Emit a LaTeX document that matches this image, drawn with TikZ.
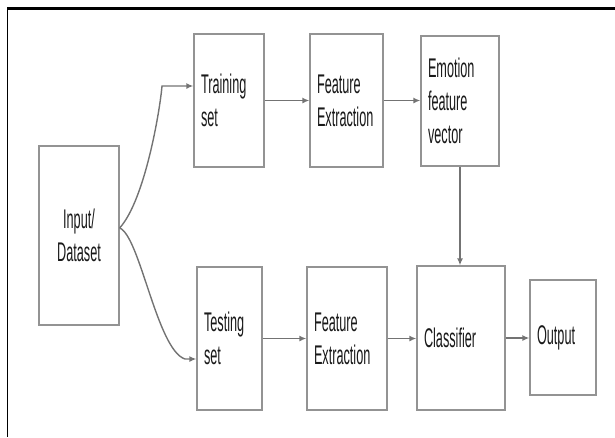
\documentclass[tikz,border=0pt]{standalone}
\usepackage{fontspec}
\setmainfont{Liberation Sans}[FakeStretch=0.47]
\usetikzlibrary{arrows.meta}
\colorlet{boxgray}{gray!85}
\colorlet{flowgray}{black!55}
\colorlet{ink}{black!90}
\tikzset{
  blk/.style = {
    rectangle, draw=boxgray, line width=1.3pt,
    align=left, inner xsep=7pt, inner ysep=0pt,
    text=ink, font=\fontsize{27}{33}\selectfont
  },
  flow/.style = {draw=flowgray, line width=1.4pt, -{Latex[length=7pt,width=6pt]}}
}

\begin{document}
\begin{tikzpicture}[x=1pt,y=-1pt]
  \useasboundingbox (0,0) rectangle (615,437);
  % frame
  \draw[line width=3pt] (7,8.7) -- (615,8.7);
  \draw[line width=1.4pt] (7.3,7.2) -- (7.3,437);
  % input
  \node[blk, align=center, minimum width=80pt, minimum height=179pt] (inp) at (79,235.5) {Input/\\Dataset};
  % training branch
  \node[blk, text width=56pt, minimum height=133pt] (train) at (229,100.5) {Training\\set};
  \node[blk, text width=59pt, minimum height=133pt] (featA) at (346.5,100.5) {Feature\\Extraction};
  \node[blk, text width=64pt, minimum height=130pt] (emo) at (460,101) {Emotion\\feature\\vector};
  % testing branch
  \node[blk, text width=51pt, minimum height=143pt] (test) at (229.5,338.5) {Testing\\set};
  \node[blk, text width=66pt, minimum height=143pt] (featB) at (347,338.5) {Feature\\Extraction};
  \node[blk, text width=74pt, minimum height=144pt] (cls) at (461,338) {Classifier};
  \node[blk, text width=52pt, minimum height=115pt] (out) at (563,337.5) {Output};
  % split
  \coordinate (up) at (162,86);
  \coordinate (low) at (185,359);
  \draw[flow] ([yshift=7.5pt]inp.east) .. controls (145,200) and (160,110) .. (up) -- (train.west |- up);
  \draw[flow] ([yshift=7.5pt]inp.east) .. controls (140,236) and (157,350) .. (low) -- (test.west |- low);
  % chains
  \draw[flow] (train.east) -- (featA.west);
  \draw[flow] (featA.east) -- (featA.east -| emo.west);
  \draw[flow] (emo.south) -- (emo.south |- cls.north);
  \draw[flow] (test.east) -- (featB.west);
  \draw[flow] (featB.east) -- (featB.east -| cls.west);
  \draw[flow] (cls.east) -- (cls.east -| out.west);
\end{tikzpicture}
\end{document}
